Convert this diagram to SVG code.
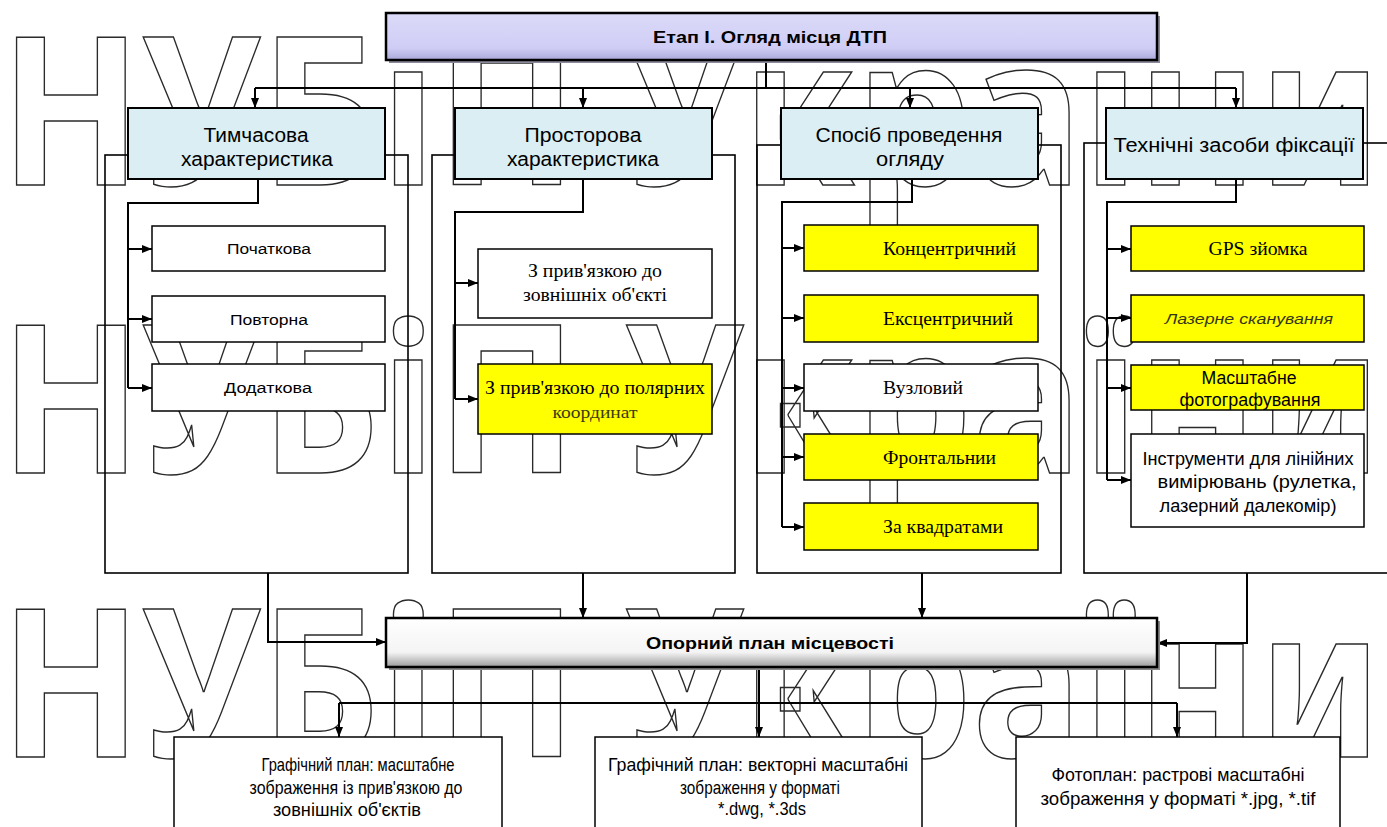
<svg xmlns="http://www.w3.org/2000/svg" width="1387" height="827" viewBox="0 0 1387 827">
<defs>
<style>
.wm{font-family:"Noto Sans","Open Sans","DejaVu Sans",sans-serif;font-weight:700;font-size:206px;fill:none;stroke:#2a2a2a;stroke-width:1.5}
.col{fill:none;stroke:#000;stroke-width:1.6}
.con path{fill:none;stroke:#000;stroke-width:2}
.blue{fill:#daeef3;stroke:#000;stroke-width:2}
.wbox{fill:#fff;stroke:#000;stroke-width:1.5}
.ybox{fill:#ffff00;stroke:#000;stroke-width:1.5}
.s{font-family:"Liberation Sans",Arial,sans-serif;fill:#000}
.r{font-family:"Liberation Serif","Times New Roman",serif;fill:#000}
.h{font-size:19.5px}
.m{text-anchor:middle}
.b{font-weight:700}
.bt{font-size:18.5px}
</style>
<marker id="ah" viewBox="0 0 10 8" refX="10" refY="4" markerWidth="10" markerHeight="8" markerUnits="userSpaceOnUse" orient="auto">
<path d="M0,0 L10,4 L0,8 z" fill="#000"/>
</marker>
<linearGradient id="gTop" x1="0" y1="0" x2="0" y2="1">
<stop offset="0" stop-color="#dcdaf8"/>
<stop offset="0.75" stop-color="#cfcdf5"/>
<stop offset="1" stop-color="#a9a7d8"/>
</linearGradient>
<linearGradient id="gBot" x1="0" y1="0" x2="0" y2="1">
<stop offset="0" stop-color="#ffffff"/>
<stop offset="0.7" stop-color="#f4f4f4"/>
<stop offset="1" stop-color="#9c9c9c"/>
</linearGradient>
</defs>
<rect width="1387" height="827" fill="#fff"/>

<g id="watermark">
<text class="wm" x="0" y="185" textLength="1382" lengthAdjust="spacingAndGlyphs">НУБіП України</text>
<text class="wm" x="0" y="473" textLength="1382" lengthAdjust="spacingAndGlyphs">НУБіП України</text>
<text class="wm" x="0" y="757" textLength="1382" lengthAdjust="spacingAndGlyphs">НУБіП України</text>
</g>

<g id="columns">
<rect class="col" x="105" y="155" width="303" height="418"/>
<rect class="col" x="432" y="155" width="303" height="418"/>
<rect class="col" x="757" y="145" width="304" height="428"/>
<rect class="col" x="1084" y="143" width="310" height="430"/>
</g>

<g id="connectors" class="con">
<path d="M766 60V88"/>
<path d="M255 88H1236"/>
<path d="M255 88V108" marker-end="url(#ah)"/>
<path d="M583 88V108" marker-end="url(#ah)"/>
<path d="M910 88V108" marker-end="url(#ah)"/>
<path d="M1236 88V108" marker-end="url(#ah)"/>
<path d="M258 179V203H128V388"/>
<path d="M128 249H152" marker-end="url(#ah)"/>
<path d="M128 319H152" marker-end="url(#ah)"/>
<path d="M128 388H152" marker-end="url(#ah)"/>
<path d="M583 179V212H455V399"/>
<path d="M455 283H478" marker-end="url(#ah)"/>
<path d="M455 399H478" marker-end="url(#ah)"/>
<path d="M912 179V202H782V527"/>
<path d="M782 248H804" marker-end="url(#ah)"/>
<path d="M782 318H804" marker-end="url(#ah)"/>
<path d="M782 388H804" marker-end="url(#ah)"/>
<path d="M782 457H804" marker-end="url(#ah)"/>
<path d="M782 527H804" marker-end="url(#ah)"/>
<path d="M1236 179V202H1107V480"/>
<path d="M1107 249H1131" marker-end="url(#ah)"/>
<path d="M1107 318H1131" marker-end="url(#ah)"/>
<path d="M1107 388H1131" marker-end="url(#ah)"/>
<path d="M1107 480H1131" marker-end="url(#ah)"/>
<path d="M268 573V642H386" marker-end="url(#ah)"/>
<path d="M583 573V618" marker-end="url(#ah)"/>
<path d="M922 573V618" marker-end="url(#ah)"/>
<path d="M1247 573V643H1157" marker-end="url(#ah)"/>
<path d="M759 667V737" marker-end="url(#ah)"/>
<path d="M339 703H1177"/>
<path d="M339 703V737" marker-end="url(#ah)"/>
<path d="M1177 703V737" marker-end="url(#ah)"/>
</g>

<g id="stage">
<rect x="389" y="16" width="771" height="47" fill="#8a8a9a"/>
<rect x="386" y="13" width="771" height="47" fill="url(#gTop)" stroke="#000" stroke-width="2.5"/>
<text class="s b m" x="770" y="43" font-size="16.5" textLength="234" lengthAdjust="spacingAndGlyphs">Етап І. Огляд місця ДТП</text>
</g>

<g id="time">
<rect class="blue" x="128" y="108" width="257" height="71"/>
<text class="s h m" x="256" y="142" textLength="105" lengthAdjust="spacingAndGlyphs">Тимчасова</text>
<text class="s h m" x="257" y="166" textLength="152" lengthAdjust="spacingAndGlyphs">характеристика</text>
</g>
<g id="space">
<rect class="blue" x="455" y="108" width="257" height="71"/>
<text class="s h m" x="583" y="142" textLength="117" lengthAdjust="spacingAndGlyphs">Просторова</text>
<text class="s h m" x="583" y="166" textLength="152" lengthAdjust="spacingAndGlyphs">характеристика</text>
</g>
<g id="method">
<rect class="blue" x="781" y="108" width="257" height="71"/>
<text class="s h m" x="909" y="142" textLength="187" lengthAdjust="spacingAndGlyphs">Спосіб проведення</text>
<text class="s h m" x="910" y="166" textLength="68" lengthAdjust="spacingAndGlyphs">огляду</text>
</g>
<g id="tech">
<rect class="blue" x="1106" y="108" width="257" height="71"/>
<text class="s h m" x="1234" y="152" textLength="241" lengthAdjust="spacingAndGlyphs">Технічні засоби фіксації</text>
</g>

<g id="initial">
<rect class="wbox" x="152" y="226" width="233" height="45"/>
<text class="s m" x="269" y="254" font-size="15.5" textLength="84" lengthAdjust="spacingAndGlyphs">Початкова</text>
</g>
<g id="repeat">
<rect class="wbox" x="152" y="296" width="233" height="46"/>
<text class="s m" x="269" y="325" font-size="15.5" textLength="78" lengthAdjust="spacingAndGlyphs">Повторна</text>
</g>
<g id="additional">
<rect class="wbox" x="152" y="364" width="233" height="47"/>
<text class="s m" x="268" y="393" font-size="15.5" textLength="88" lengthAdjust="spacingAndGlyphs">Додаткова</text>
</g>

<g id="ext">
<rect class="wbox" x="478" y="249" width="234" height="69"/>
<text class="r m" x="595" y="277" font-size="19" textLength="134" lengthAdjust="spacingAndGlyphs">З прив'язкою до</text>
<text class="r m" x="595" y="301" font-size="19" textLength="144" lengthAdjust="spacingAndGlyphs">зовнішніх об'єкті</text>
</g>
<g id="polar">
<rect class="ybox" x="478" y="364" width="234" height="70"/>
<text class="r m" x="595" y="394" font-size="19" textLength="220" lengthAdjust="spacingAndGlyphs">З прив'язкою до полярних</text>
<text class="r m" x="595" y="418" font-size="16" style="fill:#3a3a10" textLength="85" lengthAdjust="spacingAndGlyphs">координат</text>
</g>

<g id="concentric">
<rect class="ybox" x="804" y="225" width="234" height="46"/>
<text class="r" x="883" y="255" font-size="19" textLength="133" lengthAdjust="spacingAndGlyphs">Концентричний</text>
</g>
<g id="eccentric">
<rect class="ybox" x="804" y="295" width="234" height="47"/>
<text class="r" x="883" y="325" font-size="19" textLength="130" lengthAdjust="spacingAndGlyphs">Ексцентричний</text>
</g>
<g id="nodal">
<rect class="wbox" x="804" y="364" width="234" height="47"/>
<text class="r" x="883" y="394" font-size="19" textLength="80" lengthAdjust="spacingAndGlyphs">Вузловий</text>
</g>
<g id="frontal">
<rect class="ybox" x="804" y="434" width="234" height="46"/>
<text class="r" x="883" y="464" font-size="19" textLength="113" lengthAdjust="spacingAndGlyphs">Фронтальнии</text>
</g>
<g id="squares">
<rect class="ybox" x="804" y="503" width="234" height="47"/>
<text class="r" x="883" y="533" font-size="19" textLength="120" lengthAdjust="spacingAndGlyphs">За квадратами</text>
</g>

<g id="gps">
<rect class="ybox" x="1131" y="226" width="233" height="45"/>
<text class="r m" x="1258" y="255" font-size="19" textLength="99" lengthAdjust="spacingAndGlyphs">GPS зйомка</text>
</g>
<g id="laser">
<rect class="ybox" x="1131" y="295" width="233" height="47"/>
<text class="s m" x="1249" y="324" font-size="15.5" style="fill:#35351a" font-style="italic" textLength="168" lengthAdjust="spacingAndGlyphs">Лазерне сканування</text>
</g>
<g id="photo">
<rect class="ybox" x="1131" y="365" width="233" height="45"/>
<text class="s m" x="1249" y="384" font-size="17.5" textLength="95" lengthAdjust="spacingAndGlyphs">Масштабне</text>
<text class="s m" x="1250" y="406" font-size="17.5" textLength="141" lengthAdjust="spacingAndGlyphs">фотографування</text>
</g>
<g id="tools">
<rect class="wbox" x="1131" y="434" width="233" height="93"/>
<text class="s m" x="1248" y="465" font-size="17.5" textLength="211" lengthAdjust="spacingAndGlyphs">Інструменти для лінійних</text>
<text class="s m" x="1257" y="488" font-size="17.5" textLength="199" lengthAdjust="spacingAndGlyphs">вимірювань (рулетка,</text>
<text class="s m" x="1248" y="512" font-size="17.5" textLength="177" lengthAdjust="spacingAndGlyphs">лазерний далекомір)</text>
</g>

<g id="base">
<rect x="389" y="621" width="771" height="49" fill="#8a8a8a"/>
<rect x="386" y="618" width="771" height="49" fill="url(#gBot)" stroke="#000" stroke-width="2.5"/>
<text class="s b m" x="770" y="649" font-size="16.5" textLength="248" lengthAdjust="spacingAndGlyphs">Опорний план місцевості</text>
</g>

<g id="graphic">
<rect class="wbox" x="174" y="737" width="328" height="100"/>
<text class="s m bt" x="358" y="771" textLength="193" lengthAdjust="spacingAndGlyphs">Графічний план: масштабне</text>
<text class="s m bt" x="356" y="794" textLength="213" lengthAdjust="spacingAndGlyphs">зображення із прив'язкою до</text>
<text class="s m bt" x="347" y="816" textLength="148" lengthAdjust="spacingAndGlyphs">зовнішніх об'єктів</text>
</g>
<g id="vector">
<rect class="wbox" x="595" y="737" width="327" height="100"/>
<text class="s m bt" x="758" y="771" textLength="300" lengthAdjust="spacingAndGlyphs">Графічний план: векторні масштабні</text>
<text class="s m bt" x="760" y="794" textLength="160" lengthAdjust="spacingAndGlyphs">зображення у форматі</text>
<text class="s m bt" x="762" y="815" textLength="88" lengthAdjust="spacingAndGlyphs">*.dwg, *.3ds</text>
</g>
<g id="raster">
<rect class="wbox" x="1016" y="737" width="324" height="100"/>
<text class="s m bt" x="1178" y="781" textLength="253" lengthAdjust="spacingAndGlyphs">Фотоплан: растрові масштабні</text>
<text class="s m bt" x="1178" y="805" textLength="275" lengthAdjust="spacingAndGlyphs">зображення у форматі *.jpg, *.tif</text>
</g>
</svg>
